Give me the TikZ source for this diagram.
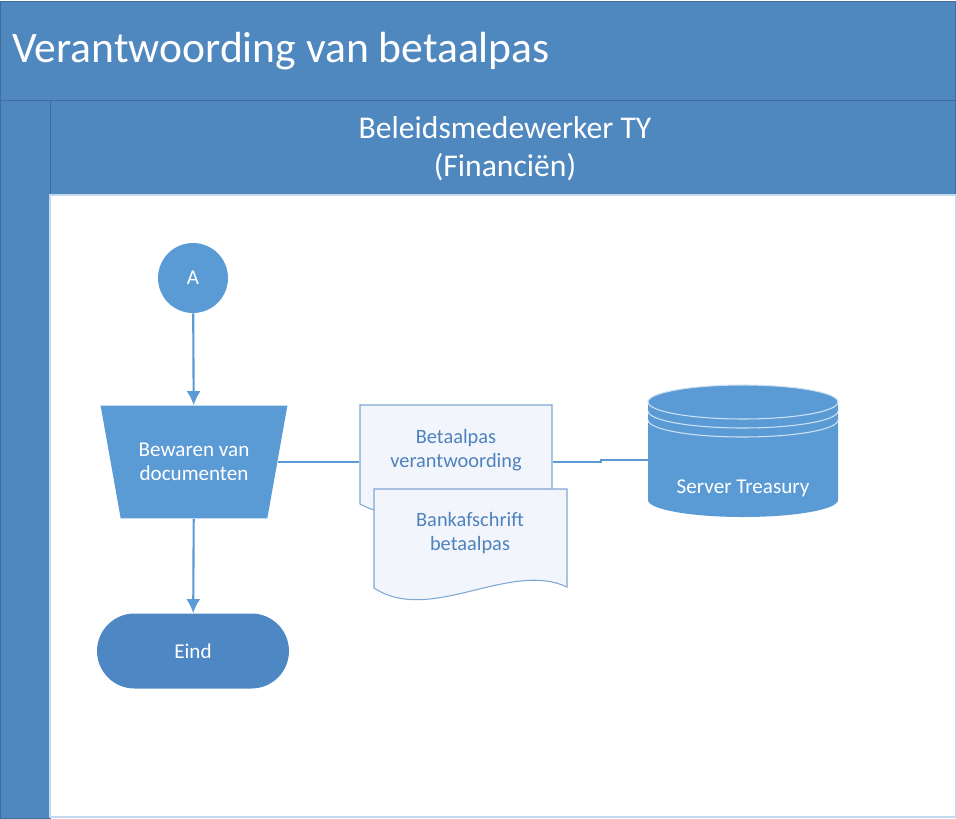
\documentclass[tikz,border=0pt]{standalone}
\usepackage{fontspec}
\setmainfont{Carlito}
\usetikzlibrary{arrows.meta,positioning,shapes.geometric,shapes.misc}
\definecolor{laneBlue}{HTML}{4F87BF}
\definecolor{laneEdge}{HTML}{3F6E9E}
\definecolor{shapeBlue}{HTML}{5B9BD5}
\definecolor{endBlue}{HTML}{4E88C4}
\definecolor{docLine}{HTML}{7FA7D4}
\definecolor{docFill}{HTML}{F2F6FC}
\definecolor{docText}{HTML}{4F81BD}
\definecolor{bodyEdge}{HTML}{C5D9EE}
\tikzset{
  lane/.style={fill=laneBlue,draw=laneEdge,line width=.5pt},
  proc/.style={fill=shapeBlue,text=white,align=center,inner sep=0pt,
    font=\fontsize{12}{13.6}\selectfont},
  connector/.style={proc,circle,minimum size=1.4cm},
  storeproc/.style={proc,trapezium,shape border rotate=180,trapezium left angle=68,
    trapezium right angle=68,trapezium stretches=true,minimum width=3.76cm,minimum height=2.26cm},
  terminal/.style={proc,fill=endBlue,rounded rectangle,minimum width=3.84cm,minimum height=1.5cm},
  doctext/.style={align=center,text=docText,font=\fontsize{11.6}{14}\selectfont,
    minimum width=3.85cm,inner sep=0pt},
  docshape/.style={fill=docFill,draw=docLine,line width=.6pt},
  flow/.style={-{Latex[length=8pt,width=8pt]},line width=1.2pt,shapeBlue},
  link/.style={line width=1.2pt,shapeBlue}
}
\begin{document}
\begin{tikzpicture}[x=.02cm,y=.02cm]
  \useasboundingbox (0,0) rectangle (956,-818);
  % pool and lane
  \fill[white] (0,0) rectangle (956,-818);
  \draw[lane] (0,-1) rectangle (955.5,-100);
  \draw[lane] (0,-100) rectangle (50,-818);
  \draw[lane] (50,-100) rectangle (955.5,-195);
  \draw[bodyEdge,line width=.8pt] (50,-195) rectangle (955.5,-817);
  \node[text=white,anchor=west,font=\fontsize{24.8}{28}\selectfont] (title) at (6,-51)
       {Verantwoording van betaalpas};
  \node[text=white,align=center,font=\fontsize{18}{21.5}\selectfont] (role) at (505,-149)
       {Beleidsmedewerker TY\\(Financiën)};

  % documents
  \draw[docshape] (360,-405) -- (552,-405) -- (552,-505)
    .. controls (495,-478) and (415,-535) .. (360,-504) -- cycle;
  \draw[docshape] (374,-489) -- (567,-489) -- (567,-587)
    .. controls (510,-560) and (430,-625) .. (374,-588) -- cycle;

  \node[connector] (A) at (193,-278) {A};
  \node[storeproc] (bew) at (194,-462) {Bewaren van\\documenten};
  \node[terminal] (eind) at (193,-651) {Eind};

  \node[doctext] (docA) at (456,-450) {Betaalpas\\verantwoording};
  \node[doctext] (docB) at (470,-533) {Bankafschrift\\betaalpas};
  \node[minimum width=3.8cm,minimum height=2.64cm,inner sep=0pt] (srv) at (743,-452) {};

  \draw[flow] (A) -- (bew);
  \draw[flow] (bew) -- (eind);
  \draw[link] (bew.east) -- (bew.east -| docA.west);
  \draw[link] (bew.east -| docA.east) -- ++(48,0) |- ([yshift=-.16cm]srv.west);

  % server
  \fill[shapeBlue] (648,-402) -- (648,-500) arc[start angle=180,end angle=360,x radius=95,y radius=17]
    -- (838,-402) arc[start angle=0,end angle=180,x radius=95,y radius=17] -- cycle;
  \draw[white!70!shapeBlue,line width=.6pt] (743,-402) ellipse[x radius=95,y radius=17];
  \foreach \d in {9,18}
    \draw[white!70!shapeBlue,line width=.6pt] (648,{-402-\d}) arc[start angle=180,end angle=360,x radius=95,y radius=17];
  \node[text=white,font=\fontsize{12}{13.6}\selectfont] (srvtext) at (743,-488) {Server Treasury};
\end{tikzpicture}
\end{document}
